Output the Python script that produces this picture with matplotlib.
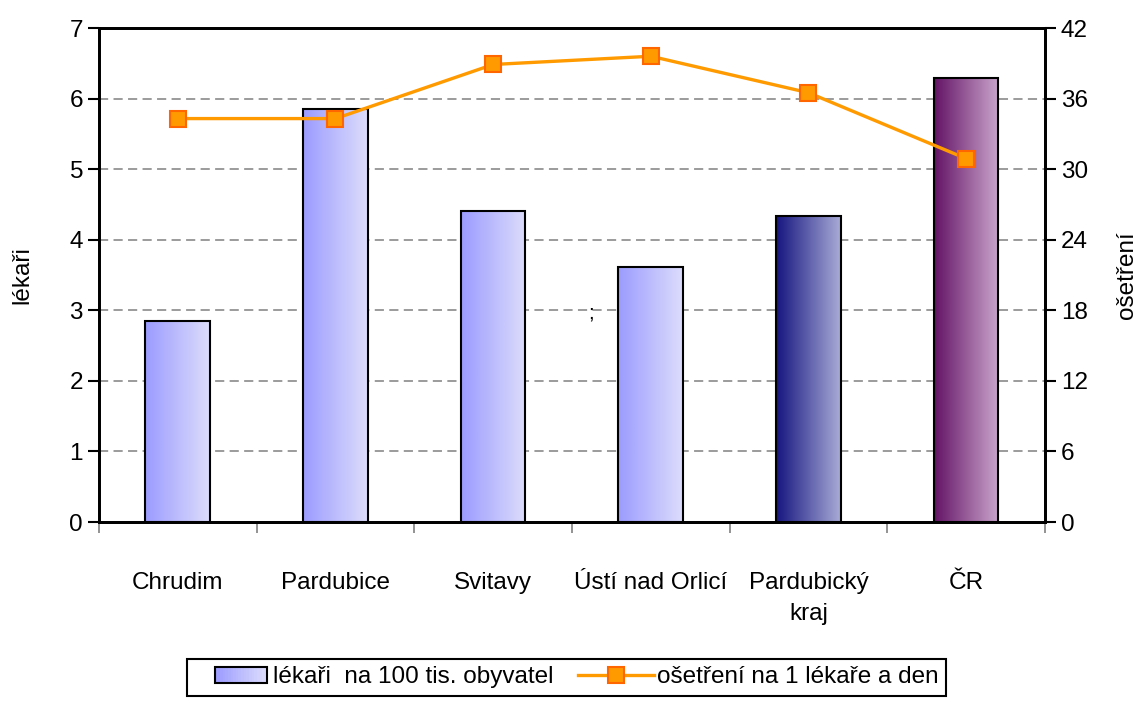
import numpy as np
import matplotlib
matplotlib.use("Agg")
import matplotlib.pyplot as plt
from matplotlib.patches import Rectangle
from matplotlib.lines import Line2D
from matplotlib.legend_handler import HandlerBase
from matplotlib.colors import LinearSegmentedColormap

plt.rcParams['font.family'] = ['Liberation Sans', 'DejaVu Sans']

# ── Data ───────────────────────────────────────────────────────────
categories = ["Chrudim", "Pardubice", "Svitavy", "Ústí nad Orlicí",
              "Pardubický\nkraj", "ČR"]
lekari = [2.85, 5.85, 4.41, 3.61, 4.34, 6.29]          # per 100k inhabitants
osetreni = [34.3, 34.3, 38.9, 39.6, 36.5, 30.9]        # per doctor and day

label_bar = "lékaři  na 100 tis. obyvatel"
label_line = "ošetření na 1 lékaře a den"

# gradient (left colour, right colour) for each bar
grad_default = ("#9c9cff", "#dcdcfc")
grad_colors = [grad_default, grad_default, grad_default, grad_default,
               ("#161680", "#a8aad6"), ("#641466", "#c9a4cb")]

FS = 17.5
LINE_C = "#ff9a00"
MARK_EDGE = "#ff6600"

fig = plt.figure(figsize=(11.47, 7.04), dpi=100)
ax = fig.add_axes([0.0863, 0.2585, 0.8247, 0.7017])
ax2 = ax.twinx()

x = np.arange(len(categories))
width = 0.41

# ── Bars with horizontal gradient ──────────────────────────────────
for xi, h, (c0, c1) in zip(x, lekari, grad_colors):
    cmap = LinearSegmentedColormap.from_list("g", [c0, c1])
    grad = np.linspace(0, 1, 64).reshape(1, -1)
    ax.imshow(grad, cmap=cmap, aspect="auto", interpolation="bilinear",
              extent=[xi - width / 2, xi + width / 2, 0, h], zorder=2)
    ax.add_patch(Rectangle((xi - width / 2, 0), width, h, facecolor="none",
                           edgecolor="black", linewidth=1.5, zorder=3))

ax.set_xlim(-0.5, len(categories) - 0.5)
ax.set_ylim(0, 7)
ax.set_yticks(range(0, 8))
ax.grid(axis="y", color="#808080", linestyle=(0, (6, 3.5)), linewidth=1.1, zorder=1)
ax.set_axisbelow(True)

ax.set_xticks(x)
ax.set_xticklabels(categories, fontsize=FS, linespacing=1.5)
ax.tick_params(axis="x", which="major", length=0, pad=36)
ax.set_xticks(np.arange(-0.5, len(categories)), minor=True)
ax.tick_params(axis="x", which="minor", length=8, color="#808080", width=1.2)
ax.tick_params(axis="y", labelsize=FS, length=8, width=1.5, direction="out")
ax.set_ylabel("lékaři", fontsize=FS, labelpad=26)

# stray semicolon from the original
ax.text(2.62, 2.96, ";", fontsize=15, ha="center", va="center")

# ── Line on secondary axis ─────────────────────────────────────────
ax2.plot(x, osetreni, color=LINE_C, linewidth=2.4, marker="s",
         markersize=12, markerfacecolor=LINE_C, markeredgecolor=MARK_EDGE,
         markeredgewidth=1.5, zorder=5)
ax2.set_ylim(0, 42)
ax2.set_yticks(range(0, 43, 6))
ax2.tick_params(axis="y", labelsize=FS, length=8, width=1.5, direction="out")
ax2.set_ylabel("ošetření", fontsize=FS, rotation=90, labelpad=20)

for a in (ax, ax2):
    for s in a.spines.values():
        s.set_linewidth(2)
        s.set_color("black")


# ── Legend with gradient patch ─────────────────────────────────────
class GradientHandler(HandlerBase):
    def create_artists(self, legend, orig_handle, xdescent, ydescent,
                       width, height, fontsize, trans):
        c0, c1 = grad_default
        cmap = LinearSegmentedColormap.from_list("g", [c0, c1])
        x0 = -xdescent + 0.27 * width
        w = 0.70 * width
        h = height * 0.95
        y0 = -ydescent + (height - h) / 2
        n = 20
        arts = []
        for i in range(n):
            arts.append(Rectangle((x0 + w * i / n, y0), w / n + 0.3, h,
                                  facecolor=cmap(i / (n - 1)),
                                  edgecolor="none", transform=trans))
        arts.append(Rectangle((x0, y0), w, h, facecolor="none",
                              edgecolor="black", linewidth=1.5,
                              transform=trans))
        return arts


bar_handle = Rectangle((0, 0), 1, 1)
line_handle = Line2D([], [], color=LINE_C, linewidth=2.4, marker="s",
                     markersize=12, markerfacecolor=LINE_C,
                     markeredgecolor=MARK_EDGE, markeredgewidth=1.5)
leg = fig.legend([bar_handle, line_handle], [label_bar, label_line],
                 handler_map={Rectangle: GradientHandler()},
                 loc="center", bbox_to_anchor=(0.494, 0.038), ncol=2,
                 fontsize=FS, frameon=True, fancybox=False, framealpha=1,
                 edgecolor="black", handlelength=3.1, handletextpad=0.15,
                 columnspacing=1.0, borderpad=0.3)
leg.get_frame().set_linewidth(1.5)

fig.savefig("out.png", dpi=100)
